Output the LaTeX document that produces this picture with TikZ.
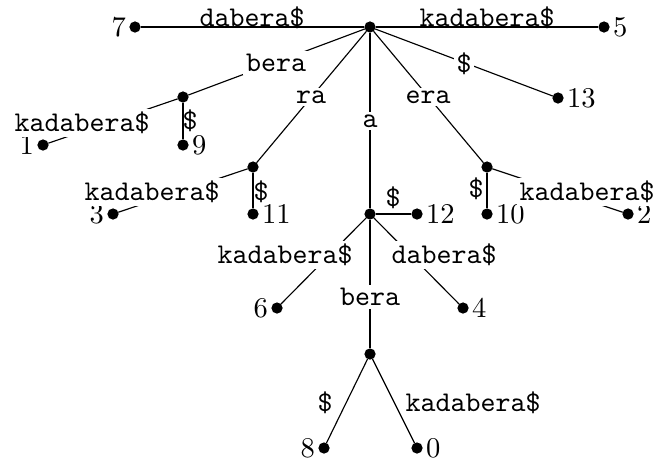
\documentclass[tikz,border=0pt]{standalone}
\usepackage{tikz}

\begin{document}
\begin{tikzpicture}[x=0.35pt, y=-0.35pt,
  vtx/.style={draw, circle, fill=black, minimum size=3.5pt, inner sep=0pt},
  every label/.style={inner sep=1pt},
  elbl/.style={fill=white, inner sep=1pt, font=\ttfamily},
  slbl/.style={inner sep=1pt, font=\ttfamily}]
\useasboundingbox (0,0) rectangle (657,463);
% nodes of the tree
\node[vtx] (R) at (370,27) {};
\node[vtx, label=left:{7}] (L7) at (135,27) {};
\node[vtx, label=right:{5}] (L5) at (604,27) {};
\node[vtx] (B) at (183,97) {};
\node[vtx, label=left:{1}] (L1) at (43,145) {};
\node[vtx, label=right:{9}] (L9) at (183,145) {};
\node[vtx] (RA) at (253,167) {};
\node[vtx, label=left:{3}] (L3) at (113,214) {};
\node[vtx, label=right:{11}] (L11) at (253,214) {};
\node[vtx] (A) at (370,214) {};
\node[vtx, label=right:{12}] (L12) at (417,214) {};
\node[vtx, label=left:{6}] (L6) at (277,308) {};
\node[vtx, label=right:{4}] (L4) at (463,308) {};
\node[vtx] (AB) at (370,354) {};
\node[vtx, label=left:{8}] (L8) at (324,448) {};
\node[vtx, label=right:{0}] (L0) at (417,448) {};
\node[vtx] (E) at (487,167) {};
\node[vtx, label=right:{10}] (L10) at (487,214) {};
\node[vtx, label=right:{2}] (L2) at (628,214) {};
\node[vtx, label=right:{13}] (L13) at (558,98) {};
% edges
\draw (R) -- (L7);
\draw (R) -- (L5);
\draw (R) -- (B);
\draw (R) -- (RA);
\draw (R) -- (A);
\draw (R) -- (E);
\draw (R) -- (L13);
\draw (B) -- (L1);
\draw (B) -- (L9);
\draw (RA) -- (L3);
\draw (RA) -- (L11);
\draw (A) -- (L12);
\draw (A) -- (L6);
\draw (A) -- (L4);
\draw (A) -- (AB);
\draw (AB) -- (L8);
\draw (AB) -- (L0);
\draw (E) -- (L10);
\draw (E) -- (L2);
% edge labels
\node[slbl] (t7) at (252,18) {dabera\$};
\node[slbl] (t5) at (487,18) {kadabera\$};
\node[elbl] (tB) at (276,63) {bera};
\node[elbl] (tRA) at (311,97) {ra};
\node[elbl] (tA) at (370,121) {a};
\node[elbl] (tE) at (428,97) {era};
\node[elbl] (t13) at (464,64) {\$};
\node[elbl] (t1) at (82,123) {kadabera\$};
\node[slbl] (t9) at (190,121) {\$};
\node[elbl] (t3) at (152,192) {kadabera\$};
\node[slbl] (t11) at (261,192) {\$};
\node[slbl] (t12) at (393,198) {\$};
\node[elbl] (t6) at (285,255) {kadabera\$};
\node[elbl] (t4) at (444,255) {dabera\$};
\node[elbl] (tAB) at (370,297) {bera};
\node[slbl] (t8) at (325,403) {\$};
\node[slbl] (t0) at (473,403) {kadabera\$};
\node[slbl] (t10) at (476,189) {\$};
\node[elbl] (t2) at (587,192) {kadabera\$};
\end{tikzpicture}
\end{document}
